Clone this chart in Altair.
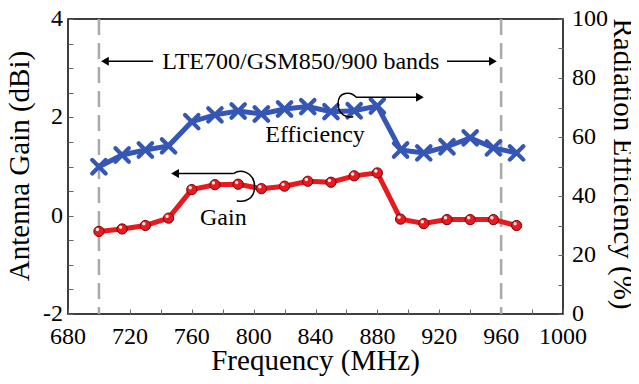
import altair as alt
import pandas as pd

# ---- data ----
freq = [700, 715, 730, 745, 760, 775, 790, 805, 820, 835, 850, 865, 880, 895, 910, 925, 940, 955, 970]
gain = [-0.32, -0.27, -0.20, -0.05, 0.53, 0.63, 0.64, 0.55, 0.60, 0.70, 0.68, 0.81, 0.87,
        -0.07, -0.16, -0.08, -0.08, -0.08, -0.20]
eff = [49.9, 53.9, 55.6, 57.0, 65.2, 67.5, 68.8, 67.8, 69.5, 70.3, 68.6, 68.9, 70.5,
       55.6, 54.6, 56.7, 59.7, 56.3, 54.6]

band_edges = [700, 960]
x_tick_values = list(range(680, 1001, 20))
x_label_values = [680, 720, 760, 800, 840, 880, 920, 960, 1000]
x_label_text = ["680", "720", "760", "800", "840", "880", "920", "960", "1000"]
gain_tick_values = [-2, -1.5, -1, -0.5, 0, 0.5, 1, 1.5, 2, 2.5, 3, 3.5, 4]
gain_label_values = [-2, 0, 2, 4]
gain_label_text = ["-2", "0", "2", "4"]
eff_tick_values = list(range(0, 101, 10))
eff_label_values = [0, 20, 40, 60, 80, 100]
eff_label_text = ["0", "20", "40", "60", "80", "100"]

x_title = ["Frequency (MHz)"]
gain_title = ["Antenna Gain (dBi)"]
eff_title = ["Radiation Efficiency (%)"]

# annotations (in frequency / gain units)
note_text = ["LTE700/GSM850/900 bands", "Efficiency", "Gain"]
note_x = [830.5, 839.7, 780.4]
note_y = [3.13, 1.64, -0.05]

arrow_tail = [735, 925, 866.0, 787.1]
arrow_tip = [703.9, 954.7, 907.5, 749.2]
arrow_y = [3.14, 3.14, 2.41, 0.857]
arrow_dir = ["left", "right", "right", "left"]

curl_eff_x, curl_eff_y = [861.0], [2.254]
curl_gain_x, curl_gain_y = [793.1], [0.589]

W, H = 495, 295
FONT = "Liberation Serif"
RED = "#e8191f"
BLUE = "#3556b5"
XDOM = [680, 1000]
GDOM = [-2, 4]
EDOM = [0, 100]

df = pd.DataFrame({"freq": freq, "gain": gain, "eff": eff})
df_band = pd.DataFrame({"edge": band_edges})
df_note = pd.DataFrame({"x": note_x, "y": note_y, "t": note_text})
df_arrow = pd.DataFrame({"x1": arrow_tail, "x2": arrow_tip, "y": arrow_y, "dir": arrow_dir})
df_curl_e = pd.DataFrame({"x": curl_eff_x, "y": curl_eff_y})
df_curl_g = pd.DataFrame({"x": curl_gain_x, "y": curl_gain_y})
df_xlab = pd.DataFrame({"v": x_label_values, "t": x_label_text})
df_glab = pd.DataFrame({"v": gain_label_values, "t": gain_label_text})
df_elab = pd.DataFrame({"v": eff_label_values, "t": eff_label_text})


def xs(field, axis=None):
    return alt.X(field, type="quantitative",
                 scale=alt.Scale(domain=XDOM, nice=False, zero=False), axis=axis)


def ys(field, dom, axis=None):
    return alt.Y(field, type="quantitative",
                 scale=alt.Scale(domain=dom, nice=False, zero=False), axis=axis)


tick_axis_style = dict(labels=False, domain=False, grid=False, ticks=True,
                       tickSize=5, tickColor="#666666", tickWidth=1, title=None)

base = alt.Chart(df)

# dashed band edges, also carrying the inward x ticks
band = alt.Chart(df_band).mark_rule(color="#aaaaaa", strokeWidth=2.5, strokeDash=[16, 8]).encode(
    x=xs("edge", alt.Axis(orient="top", offset=-H, values=x_tick_values, **tick_axis_style))
)

gain_line = base.mark_line(color=RED, strokeWidth=5).encode(
    x=xs("freq"), y=ys("gain", GDOM)
)
gain_pts = base.mark_point(shape="circle", filled=True, fill=RED, stroke="#7a0000",
                           strokeWidth=1, size=105, opacity=1).encode(
    x=xs("freq"),
    y=ys("gain", GDOM, alt.Axis(orient="right", offset=-W, values=gain_tick_values,
                                **tick_axis_style))
)
gain_hl = base.mark_circle(color="white", size=12, opacity=0.9, xOffset=-1.5, yOffset=-1.8).encode(
    x=xs("freq"), y=ys("gain", GDOM)
)

eff_line = base.mark_line(color=BLUE, strokeWidth=5).encode(
    x=xs("freq"), y=ys("eff", EDOM)
)
eff_pts = base.mark_point(shape="M -1 -1 L 1 1 M 1 -1 L -1 1", filled=False, stroke=BLUE,
                          strokeWidth=4.2, size=180, opacity=1, strokeCap="round").encode(
    x=xs("freq"),
    y=ys("eff", EDOM, alt.Axis(orient="left", offset=-W, values=eff_tick_values,
                               **tick_axis_style))
)

txt = dict(font=FONT, color="black")

notes = alt.Chart(df_note).mark_text(fontSize=24, baseline="middle", align="center", **txt).encode(
    x=xs("x"), y=ys("y", GDOM), text="t:N"
)

arrow_lines = alt.Chart(df_arrow).mark_rule(color="black", strokeWidth=1.6).encode(
    x=xs("x1"), x2="x2:Q", y=ys("y", GDOM)
)
arrow_heads = alt.Chart(df_arrow).mark_point(filled=True, color="black", size=80, opacity=1).encode(
    x=xs("x2"), y=ys("y", GDOM),
    shape=alt.Shape("dir:N", scale=alt.Scale(domain=["left", "right"],
                                             range=["triangle-left", "triangle-right"]),
                    legend=None)
)

curl_e = alt.Chart(df_curl_e).mark_point(
    shape="M 0.6 -0.6 C 0.2 -1.05 -0.75 -1 -0.75 -0.1 C -0.75 0.75 -0.1 1 0.4 0.9",
    filled=False, stroke="black", strokeWidth=1.5, size=700, opacity=1).encode(
    x=xs("x"), y=ys("y", GDOM)
)
curl_g = alt.Chart(df_curl_g).mark_point(
    shape="M -0.6 -0.85 C -0.2 -1.15 0.75 -1 0.75 0 C 0.75 0.8 0.1 1.05 -0.4 0.9",
    filled=False, stroke="black", strokeWidth=1.5, size=961, opacity=1).encode(
    x=xs("x"), y=ys("y", GDOM)
)

# axis labels and titles as text marks (serif font)
x_labels = alt.Chart(df_xlab).mark_text(fontSize=24, baseline="middle", align="center", **txt).encode(
    x=xs("v"), y=alt.value(H + 23), text="t:N"
)
g_labels = alt.Chart(df_glab).mark_text(fontSize=24, baseline="middle", align="right", **txt).encode(
    x=alt.value(-5), y=ys("v", GDOM), text="t:N"
)
e_labels = alt.Chart(df_elab).mark_text(fontSize=24, baseline="middle", align="left", **txt).encode(
    x=alt.value(W + 9), y=ys("v", EDOM), text="t:N"
)
x_title_mark = alt.Chart(pd.DataFrame({"t": x_title})).mark_text(
    fontSize=29, baseline="middle", align="center", **txt).encode(
    x=alt.value(W / 2), y=alt.value(H + 47), text="t:N"
)
g_title_mark = alt.Chart(pd.DataFrame({"t": gain_title})).mark_text(
    fontSize=29, baseline="middle", align="center", angle=270, **txt).encode(
    x=alt.value(-48), y=alt.value(147), text="t:N"
)
e_title_mark = alt.Chart(pd.DataFrame({"t": eff_title})).mark_text(
    fontSize=29, baseline="middle", align="center", angle=90, **txt).encode(
    x=alt.value(W + 60), y=alt.value(145), text="t:N"
)

chart = alt.layer(
    band, gain_line, gain_pts, gain_hl, eff_line, eff_pts,
    notes, arrow_lines, arrow_heads, curl_e, curl_g,
    x_labels, g_labels, e_labels, x_title_mark, g_title_mark, e_title_mark
).resolve_scale(
    y="independent"
).resolve_axis(
    x="independent", y="independent"
).properties(
    width=W, height=H,
    autosize=alt.AutoSizeParams(type="none"),
    padding={"left": 60, "top": 11, "right": 68, "bottom": 62},
    background="white",
).configure_view(
    stroke="black", strokeWidth=1.5
)

chart.save("out.html", embed_options={"renderer": "svg", "actions": False})
